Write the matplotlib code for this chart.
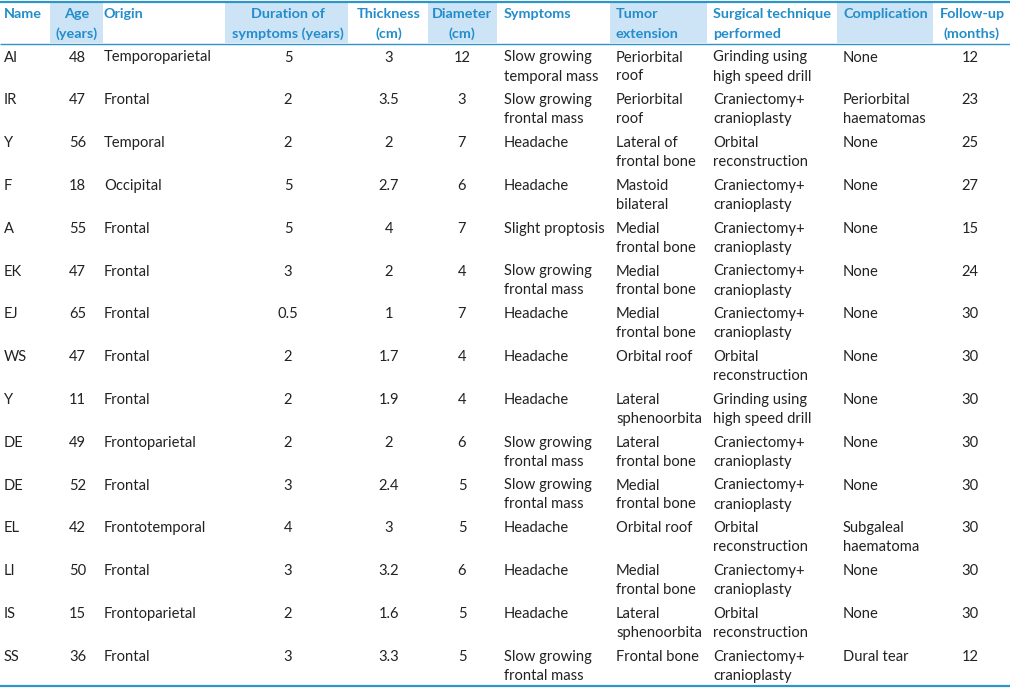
import matplotlib
matplotlib.use("Agg")
import matplotlib.pyplot as plt
from matplotlib.patches import Rectangle

# ---- data ----
headers = ["Name", "Age\n(years)", "Origin", "Duration of\nsymptoms (years)", "Thickness\n(cm)",
           "Diameter\n(cm)", "Symptoms", "Tumor\nextension", "Surgical technique\nperformed",
           "Complication", "Follow-up\n(months)"]
names = ["AI", "IR", "Y", "F", "A", "EK", "EJ", "WS", "Y", "DE", "DE", "EL", "LI", "IS", "SS"]
ages = ["48", "47", "56", "18", "55", "47", "65", "47", "11", "49", "52", "42", "50", "15", "36"]
origins = ["Temporoparietal", "Frontal", "Temporal", "Occipital", "Frontal", "Frontal", "Frontal",
           "Frontal", "Frontal", "Frontoparietal", "Frontal", "Frontotemporal", "Frontal",
           "Frontoparietal", "Frontal"]
durations = ["5", "2", "2", "5", "5", "3", "0.5", "2", "2", "2", "3", "4", "3", "2", "3"]
thickness = ["3", "3.5", "2", "2.7", "4", "2", "1", "1.7", "1.9", "2", "2.4", "3", "3.2", "1.6", "3.3"]
diameters = ["12", "3", "7", "6", "7", "4", "7", "4", "4", "6", "5", "5", "6", "5", "5"]
symptoms = ["Slow growing\ntemporal mass", "Slow growing\nfrontal mass", "Headache", "Headache",
            "Slight proptosis", "Slow growing\nfrontal mass", "Headache", "Headache", "Headache",
            "Slow growing\nfrontal mass", "Slow growing\nfrontal mass", "Headache", "Headache",
            "Headache", "Slow growing\nfrontal mass"]
extensions = ["Periorbital\nroof", "Periorbital\nroof", "Lateral of\nfrontal bone", "Mastoid\nbilateral",
              "Medial\nfrontal bone", "Medial\nfrontal bone", "Medial\nfrontal bone", "Orbital roof",
              "Lateral\nsphenoorbita", "Lateral\nfrontal bone", "Medial\nfrontal bone", "Orbital roof",
              "Medial\nfrontal bone", "Lateral\nsphenoorbita", "Frontal bone"]
techniques = ["Grinding using\nhigh speed drill", "Craniectomy+\ncranioplasty", "Orbital\nreconstruction",
              "Craniectomy+\ncranioplasty", "Craniectomy+\ncranioplasty", "Craniectomy+\ncranioplasty",
              "Craniectomy+\ncranioplasty", "Orbital\nreconstruction", "Grinding using\nhigh speed drill",
              "Craniectomy+\ncranioplasty", "Craniectomy+\ncranioplasty", "Orbital\nreconstruction",
              "Craniectomy+\ncranioplasty", "Orbital\nreconstruction", "Craniectomy+\ncranioplasty"]
complications = ["None", "Periorbital\nhaematomas", "None", "None", "None", "None", "None", "None",
                 "None", "None", "None", "Subgaleal\nhaematoma", "None", "None", "Dural tear"]
followups = ["12", "23", "25", "27", "15", "24", "30", "30", "30", "30", "30", "30", "30", "30", "12"]

columns = [names, ages, origins, durations, thickness, diameters, symptoms, extensions,
           techniques, complications, followups]

# ---- layout (pixels) ----
W, H = 1010, 688
col_x = [4, 86, 104, 288, 389, 462, 504, 616, 713, 843, 970]
col_ha = ["left", "right", "left", "center", "center", "center", "left", "left", "left", "left", "center"]
hdr_x = [4, 77, 104, 288, 389, 462, 504, 616, 713, 843, 972]
hdr_ha = ["left", "center", "left", "center", "center", "center", "left", "left", "left", "left", "center"]
shade = [(50, 103), (225, 348), (428, 497), (610, 707), (837, 933)]

BLUE = "#238dcb"
LINE = "#2f95c8"
SHADE = "#cde4f6"
TXT = "#222222"
FONT = "Lato"
FS = 10.6
HFS = 10.4
LINE_H = 19.0
ROW_H = 42.8
ROW0 = 57.5

fig = plt.figure(figsize=(W / 100, H / 100), dpi=100)
ax = fig.add_axes([0, 0, 1, 1])
ax.set_xlim(0, W)
ax.set_ylim(H, 0)
ax.axis("off")

for x0, x1 in shade:
    ax.add_patch(Rectangle((x0, 3), x1 - x0, 40, color=SHADE, lw=0, zorder=0))

ax.plot([0, W], [1.5, 1.5], color=LINE, lw=1.6, solid_capstyle="butt")
ax.plot([0, W], [43.5, 43.5], color=LINE, lw=1.0, solid_capstyle="butt")
ax.plot([0, W], [686.2, 686.2], color=LINE, lw=1.6, solid_capstyle="butt")

for h, x, ha in zip(headers, hdr_x, hdr_ha):
    for k, line in enumerate(h.split("\n")):
        ax.text(x, 14.5 + k * LINE_H, line, ha=ha, va="center", color=BLUE,
                fontsize=HFS, fontweight="bold", family=FONT)

for col, x, ha in zip(columns, col_x, col_ha):
    for i, val in enumerate(col):
        for k, line in enumerate(val.split("\n")):
            ax.text(x, ROW0 + i * ROW_H + k * LINE_H, line, ha=ha, va="center",
                    color=TXT, fontsize=FS, family=FONT)

fig.savefig("out.png", dpi=100)
